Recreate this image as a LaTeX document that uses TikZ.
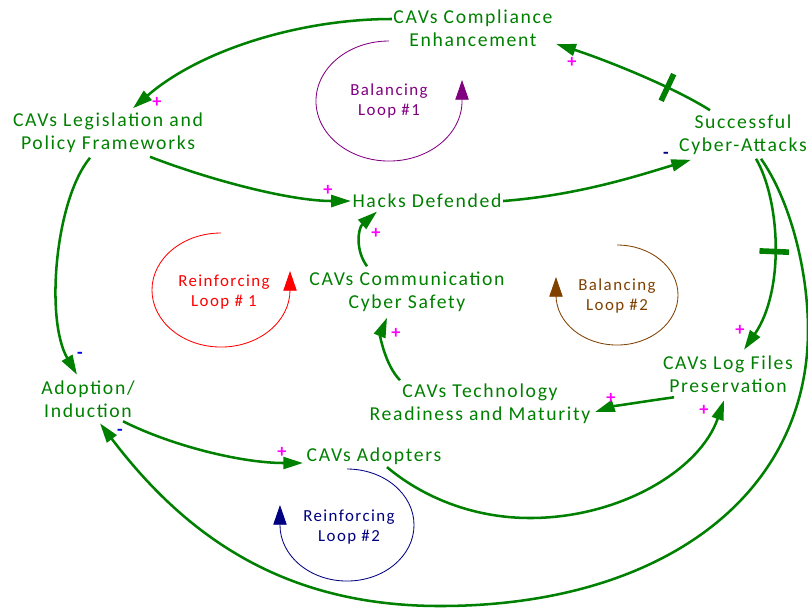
\documentclass[tikz,border=0pt]{standalone}
\usepackage{fontspec}
\setmainfont{Carlito}[LetterSpace=8.5]
\usetikzlibrary{arrows.meta}

\definecolor{cavgreen}{RGB}{0,128,0}
\definecolor{signpink}{RGB}{255,0,255}
\definecolor{signblue}{RGB}{0,0,230}
\definecolor{signnavy}{RGB}{0,0,128}
\definecolor{loopviolet}{RGB}{128,0,128}
\definecolor{loopred}{RGB}{255,0,0}
\definecolor{loopbrown}{RGB}{128,64,0}
\definecolor{loopnavy}{RGB}{0,0,128}

\begin{document}
\begin{tikzpicture}[x=0.025cm, y=-0.025cm,
	var/.style={text=cavgreen, align=center, inner sep=1pt, font=\fontsize{14}{16.6}\selectfont},
	looplabel/.style={align=center, inner sep=1pt, font=\fontsize{12}{14.2}\selectfont},
	link/.style={draw=cavgreen, line width=1.8pt, -{Triangle[length=14pt,width=8.5pt]}},
	loopline/.style={line width=0.6pt, -{Triangle[length=14pt,width=9.5pt]}},
	possign/.style={text=signpink, inner sep=0pt, font=\bfseries\fontsize{13}{13}\selectfont},
	negsign/.style={inner sep=0pt, font=\bfseries\fontsize{13}{13}\selectfont},
	delaybar/.style={fill=cavgreen, minimum width=4pt, minimum height=21pt, inner sep=0pt, sloped}]
		\useasboundingbox (0,0) rectangle (808,608);

		\node[var] (comply) at (473, 28) {CAVs Compliance\\Enhancement};
		\node[var] (legis) at (108, 133) {CAVs Legislation and\\Policy Frameworks};
		\node[var] (attacks) at (743, 135) {Successful\\Cyber-Attacks};
		\node[var] (hacks) at (427, 201) {Hacks Defended};
		\node[var] (safety) at (407, 292) {CAVs Communication\\Cyber Safety};
		\node[var] (techno) at (480, 404) {CAVs Technology\\Readiness and Maturity};
		\node[var] (logs) at (728, 374) {CAVs Log Files\\Preservation};
		\node[var] (adopt) at (88, 399) {Adoption/\\Induction};
		\node[var] (adopters) at (374, 456) {CAVs Adopters};

		\node[looplabel, text=loopviolet] (bl1) at (389, 101) {Balancing\\Loop \#1};
		\node[looplabel, text=loopred] (rl1) at (224, 292) {Reinforcing\\Loop \# 1};
		\node[looplabel, text=loopbrown] (bl2) at (617, 296) {Balancing\\Loop \#2};
		\node[looplabel, text=loopnavy] (rl2) at (349, 527) {Reinforcing\\Loop \#2};

		\draw[loopline, loopviolet] ([shift={(0,-60)}]bl1.center) arc[start angle=90, end angle=360, x radius=1.825cm, y radius=1.5cm] -- ++(0,-21);
		\draw[loopline, loopred] ([shift={(-3,-59)}]rl1.center) arc[start angle=90, end angle=360, x radius=1.725cm, y radius=1.425cm] -- ++(0,-19);
		\draw[loopline, loopbrown] ([shift={(0,-51)}]bl2.center) arc[start angle=90, end angle=-180, x radius=1.525cm, y radius=1.25cm] -- ++(0,-18);
		\draw[loopline, loopnavy] ([shift={(-2,-58)}]rl2.center) arc[start angle=90, end angle=-180, x radius=1.675cm, y radius=1.4cm] -- ++(0,-20);

		\draw[link] ([shift={(0,-9)}]comply.west) .. controls (300,19) and (200,50) .. ([shift={(25,-3)}]legis.north);
		\draw[link] ([shift={(-33,-3)}]attacks.north) .. controls (670,85) and (600,58) .. ([shift={(2,16)}]comply.east) node[delaybar, pos=0.3] {};
		\draw[link] ([shift={(42,2)}]legis.south) .. controls (210,180) and (290,201) .. (hacks.west);
		\draw[link] (hacks.east) .. controls (580,195) and (640,175) .. ([shift={(-52,3)}]attacks.south);
		\draw[link] ([shift={(-40,-4)}]safety.north) .. controls (355,250) and (358,228) .. ([shift={(-50,2)}]hacks.south);
		\draw[link] ([shift={(-80,-2)}]techno.north) .. controls (385,365) and (380,335) .. ([shift={(-20,4)}]safety.south);
		\draw[link] ([shift={(-54,3)}]logs.south) .. controls (640,402) and (610,407) .. ([shift={(3,8)}]techno.east);
		\draw[link] ([shift={(13,2)}]attacks.south) .. controls (780,200) and (785,290) .. ([shift={(16,-4)}]logs.north) node[delaybar, pos=0.52] {};
		\draw[link] ([shift={(18,2)}]attacks.south) .. controls (790,200) and (808,270) .. (808,330)
			.. controls (808,496) and (661,606) .. (440,606)
			.. controls (290,606) and (190,542) .. ([shift={(12,4)}]adopt.south);
		\draw[link] ([shift={(-18,3)}]legis.south) .. controls (55,200) and (45,320) .. ([shift={(-11,-4)}]adopt.north);
		\draw[link] ([shift={(35,2)}]adopt.south) .. controls (170,445) and (240,463) .. ([shift={(-2,7)}]adopters.west);
		\draw[link] ([shift={(13,1)}]adopters.south) .. controls (420,495) and (470,518) .. (530,518)
			.. controls (620,518) and (700,470) .. ([shift={(-4,6)}]logs.south);

		\node[possign] (p1) at (157, 102) {+};
		\node[possign] (p2) at (572, 62) {+};
		\node[possign] (p3) at (328, 190) {+};
		\node[possign] (p4) at (376, 233) {+};
		\node[possign] (p5) at (396, 333) {+};
		\node[possign] (p6) at (611, 398) {+};
		\node[possign] (p7) at (704, 410) {+};
		\node[possign] (p8) at (740, 330) {+};
		\node[possign] (p9) at (282, 452) {+};
		\node[negsign, text=signnavy] (m1) at (666, 155) {-};
		\node[negsign, text=signblue] (m2) at (80, 355) {-};
		\node[negsign, text=signblue] (m3) at (120, 432) {-};
\end{tikzpicture}
\end{document}
